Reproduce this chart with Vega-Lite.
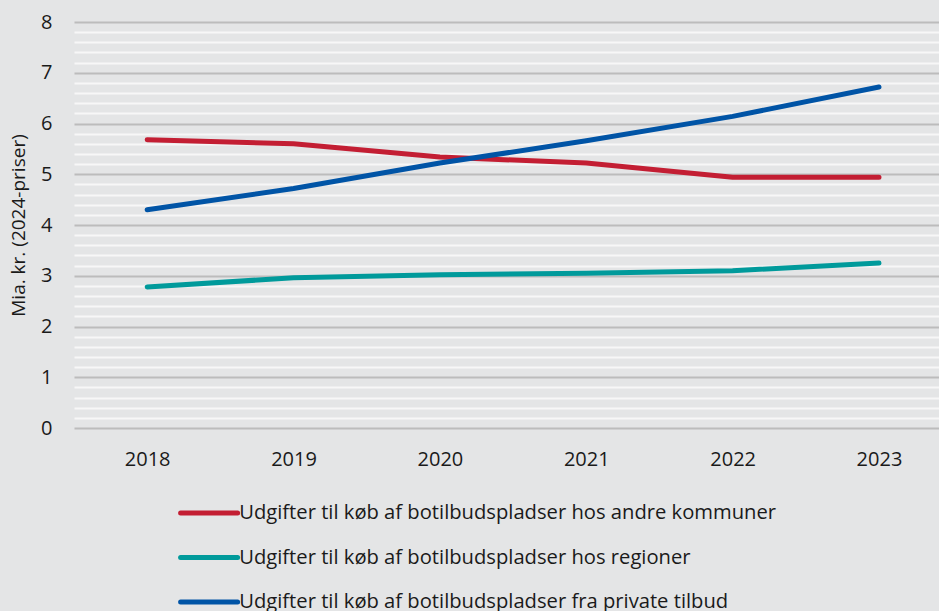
{
  "$schema": "https://vega.github.io/schema/vega-lite/v6.json",
  "width": 865,
  "height": 406,
  "padding": {"left": 74, "top": 22, "right": 0, "bottom": 183},
  "autosize": {"type": "none"},
  "background": "#e4e5e6",
  "config": {
    "view": {"stroke": null},
    "font": "Open Sans",
    "axis": {"labelFont": "Open Sans", "titleFont": "Open Sans", "labelColor": "#1a1a1a", "titleColor": "#1a1a1a"}
  },
  "data": {
    "values": [
      {"year": 2018, "series": "Udgifter til køb af botilbudspladser hos andre kommuner", "value": 5.68},
      {"year": 2019, "series": "Udgifter til køb af botilbudspladser hos andre kommuner", "value": 5.60},
      {"year": 2020, "series": "Udgifter til køb af botilbudspladser hos andre kommuner", "value": 5.34},
      {"year": 2021, "series": "Udgifter til køb af botilbudspladser hos andre kommuner", "value": 5.22},
      {"year": 2022, "series": "Udgifter til køb af botilbudspladser hos andre kommuner", "value": 4.94},
      {"year": 2023, "series": "Udgifter til køb af botilbudspladser hos andre kommuner", "value": 4.94},
      {"year": 2018, "series": "Udgifter til køb af botilbudspladser hos regioner", "value": 2.78},
      {"year": 2019, "series": "Udgifter til køb af botilbudspladser hos regioner", "value": 2.96},
      {"year": 2020, "series": "Udgifter til køb af botilbudspladser hos regioner", "value": 3.02},
      {"year": 2021, "series": "Udgifter til køb af botilbudspladser hos regioner", "value": 3.05},
      {"year": 2022, "series": "Udgifter til køb af botilbudspladser hos regioner", "value": 3.10},
      {"year": 2023, "series": "Udgifter til køb af botilbudspladser hos regioner", "value": 3.25},
      {"year": 2018, "series": "Udgifter til køb af botilbudspladser fra private tilbud", "value": 4.30},
      {"year": 2019, "series": "Udgifter til køb af botilbudspladser fra private tilbud", "value": 4.72},
      {"year": 2020, "series": "Udgifter til køb af botilbudspladser fra private tilbud", "value": 5.22},
      {"year": 2021, "series": "Udgifter til køb af botilbudspladser fra private tilbud", "value": 5.66},
      {"year": 2022, "series": "Udgifter til køb af botilbudspladser fra private tilbud", "value": 6.14},
      {"year": 2023, "series": "Udgifter til køb af botilbudspladser fra private tilbud", "value": 6.72}
    ]
  },
  "mark": {"type": "line", "strokeWidth": 5, "strokeCap": "round", "strokeJoin": "round"},
  "encoding": {
    "x": {
      "field": "year", "type": "quantitative",
      "scale": {"domain": [2017.5, 2023.41], "nice": false, "zero": false},
      "axis": {"title": null, "values": [2018, 2019, 2020, 2021, 2022, 2023], "format": "d", "grid": false, "domain": false, "ticks": false, "labelFontSize": 20, "labelPadding": 21}
    },
    "y": {
      "field": "value", "type": "quantitative",
      "scale": {"domain": [0, 8], "nice": false},
      "axis": {
        "title": "Mia. kr. (2024-priser)", "titleFontSize": 19, "titleFontWeight": "normal", "titlePadding": 12,
        "values": [0,0.2,0.4,0.6,0.8,1,1.2,1.4,1.6,1.8,2,2.2,2.4,2.6,2.8,3,3.2,3.4,3.6,3.8,4,4.2,4.4,4.6,4.8,5,5.2,5.4,5.6,5.8,6,6.2,6.4,6.6,6.8,7,7.2,7.4,7.6,7.8,8],
        "labelExpr": "abs(datum.value - round(datum.value)) < 0.001 ? format(datum.value, 'd') : ''",
        "gridColor": {"condition": {"test": "abs(datum.value - round(datum.value)) < 0.001", "value": "#bcbcbc"}, "value": "#f7f7f7"},
        "gridWidth": 2,
        "domain": false, "ticks": false, "labelFontSize": 20, "labelPadding": 22
      }
    },
    "color": {
      "field": "series", "type": "nominal",
      "scale": {
        "domain": ["Udgifter til køb af botilbudspladser hos andre kommuner", "Udgifter til køb af botilbudspladser hos regioner", "Udgifter til køb af botilbudspladser fra private tilbud"],
        "range": ["#c31e33", "#009a9b", "#0054a6"]
      },
      "legend": {
        "title": null, "orient": "none", "legendX": 125, "legendY": 481, "direction": "vertical",
        "symbolType": "M-5,0H5", "symbolSize": 130, "symbolStrokeWidth": 5, "symbolFillColor": "transparent",
        "labelFontSize": 20.2, "labelColor": "#1a1a1a", "labelFont": "Open Sans", "rowPadding": 23.5, "labelLimit": 800, "labelOffset": 20,
        "encode": {"symbols": {"update": {"strokeCap": {"value": "round"}}}}
      }
    }
  }
}
